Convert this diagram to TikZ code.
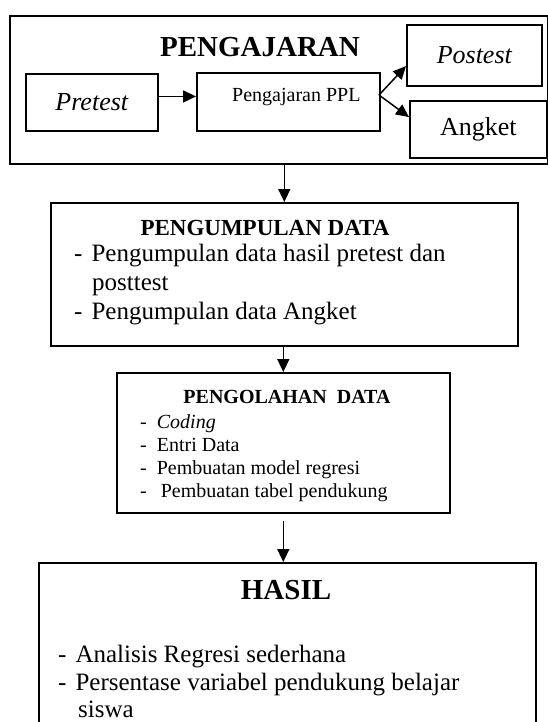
\documentclass[tikz,border=0pt]{standalone}
\usepackage{fontspec}
\setmainfont{Liberation Serif}
\usetikzlibrary{arrows.meta}

\tikzset{
  frame/.style={draw, line width=1.6pt, inner sep=0pt, anchor=north west},
  flow/.style={-{Triangle[length=13pt,width=12pt]}, line width=1.5pt},
  item/.style={anchor=base west, inner sep=0pt},
}

\begin{document}
\begin{tikzpicture}[x=1pt,y=-1pt]
\path[use as bounding box] (0,0) rectangle (548,722);
\clip (0,0) rectangle (548,722);

% pengajaran
\node[frame, minimum width=538pt, minimum height=148pt] (ajar) at (9,15) {};
\node[font=\bfseries\fontsize{29}{34}\selectfont] (ajartitle) at (260,47) {PENGAJARAN};
\node[frame, minimum width=132pt, minimum height=57pt, font=\itshape\fontsize{26}{30}\selectfont] (pre) at (25,73) {Pretest};
\node[frame, minimum width=183pt, minimum height=58pt] (ppl) at (196,72) {};
\node[item, font=\fontsize{20}{24}\selectfont] (ppltext) at (232,102) {Pengajaran PPL};
\node[frame, minimum width=135pt, minimum height=61pt, font=\itshape\fontsize{26}{30}\selectfont] (post) at (406,24) {Postest};
\node[frame, minimum width=137pt, minimum height=57pt, font=\fontsize{26}{30}\selectfont] (ang) at (409,100) {Angket};

\coordinate (fork) at (379,95);
\draw[flow] (pre.5) -- (pre.5 -| ppl.west);
\draw[flow] (fork) -- (post.189);
\draw[flow] (fork) -- (ang.170);

% pengumpulan data
\node[frame, minimum width=467pt, minimum height=143pt] (kumpul) at (50,202) {};
\node[font=\bfseries\fontsize{23}{28}\selectfont] (kumpultitle) at (265,228) {PENGUMPULAN DATA};
\node[item, font=\fontsize{25}{30}\selectfont] (kumpul1) at (74,261) {-\hspace{9pt}Pengumpulan data hasil pretest dan};
\node[item, font=\fontsize{25}{30}\selectfont] (kumpul2) at (92,290) {posttest};
\node[item, font=\fontsize{25}{30}\selectfont] (kumpul3) at (74,319) {-\hspace{9pt}Pengumpulan data Angket};

\draw[flow] (kumpul.north |- ajar.south) -- (kumpul.north);

% pengolahan data
\node[frame, minimum width=333pt, minimum height=140pt] (olah) at (116,372) {};
\node[font=\bfseries\fontsize{20}{24}\selectfont] (olahtitle) at (287,397) {PENGOLAHAN~~DATA};
\node[item, font=\fontsize{20}{24}\selectfont] (olah1) at (140,428) {-\hspace{10pt}\textit{Coding}};
\node[item, font=\fontsize{20}{24}\selectfont] (olah2) at (140,451) {-\hspace{10pt}Entri Data};
\node[item, font=\fontsize{20}{24}\selectfont] (olah3) at (140,474) {-\hspace{10pt}Pembuatan model regresi};
\node[item, font=\fontsize{20}{24}\selectfont] (olah4) at (140,497) {-\hspace{14pt}Pembuatan tabel pendukung};

\draw[flow] (olah.north |- kumpul.south) -- (olah.north);

% hasil
\node[frame, minimum width=497pt, minimum height=180pt] (hasil) at (38,562) {};
\node[font=\bfseries\fontsize{29}{34}\selectfont] (hasiltitle) at (286,590) {HASIL};
\node[item, font=\fontsize{25}{30}\selectfont] (hasil1) at (58,662) {-\hspace{9pt}Analisis Regresi sederhana};
\node[item, font=\fontsize{25}{30}\selectfont] (hasil2) at (58,690) {-\hspace{9pt}Persentase variabel pendukung belajar};
\node[item, font=\fontsize{25}{30}\selectfont] (hasil3) at (78,717) {siswa};

\draw[flow] ([yshift=-7pt]olah.south) -- (olah.south |- hasil.north);

\end{tikzpicture}
\end{document}
